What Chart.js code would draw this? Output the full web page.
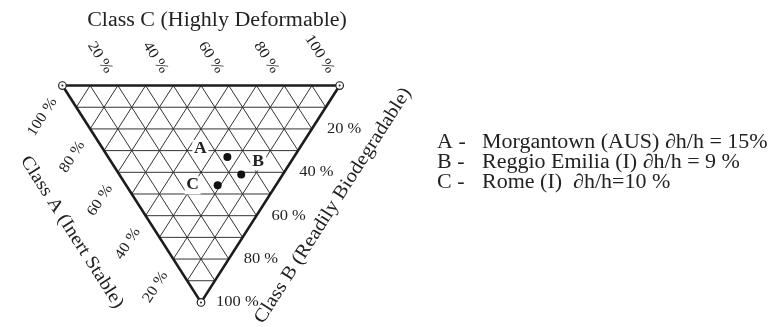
<!DOCTYPE html>
<html>
<head>
<meta charset="utf-8">
<script src="https://cdn.jsdelivr.net/npm/chart.js@4.4.1/dist/chart.umd.min.js"></script>
<style>
html, body { margin: 0; padding: 0; background: #fff; }
#wrap { width: 773px; height: 327px; }
</style>
</head>
<body>
<div id="wrap"><canvas id="chart" width="773" height="327"></canvas></div>
<script>
// Waste composition of the three sites (% of each class)
const sites = ['A', 'B', 'C'];
const siteNames = ['Morgantown (AUS)', 'Reggio Emilia (I)', 'Rome (I)'];
const settlement = [15, 9, 10];      // dh/h, %
const classA = [24, 15, 21];
const classB = [33, 41, 46];
const classC = [43, 44, 33];
const tickValues = [20, 40, 60, 80, 100];
const gridSteps = [10, 20, 30, 40, 50, 60, 70, 80, 90];

const FONT = '"Liberation Serif", "Times New Roman", serif';
const INK = '#222';
const STRETCH = 1.1;   // wide old-style serif

// ternary point -> plane: A = 100 at top-left, C = 100 at top-right, B = 100 at bottom
function toXY(a, b, c) {
    const s = a + b + c;
    return { x: (c + b / 2) / s, y: 1 - b / s };
}

function lineSet(p1, p2, width, color, order) {
    return {
        data: [p1, p2],
        showLine: true,
        borderColor: color,
        borderWidth: width,
        pointRadius: 0,
        order: order
    };
}

const datasets = [];

// sample points
datasets.push({
    data: sites.map((s, i) => toXY(classA[i], classB[i], classC[i])),
    pointRadius: 4,
    pointBackgroundColor: '#111',
    pointBorderWidth: 0,
    showLine: false,
    order: 0
});

// corner markers
const corners = [toXY(100, 0, 0), toXY(0, 0, 100), toXY(0, 100, 0)];
datasets.push({
    data: corners, pointRadius: 1, pointBackgroundColor: '#222',
    pointBorderWidth: 0, showLine: false, order: 1
});
datasets.push({
    data: corners, pointRadius: 3.8, pointBackgroundColor: '#fff',
    pointBorderColor: '#222', pointBorderWidth: 1.2, showLine: false, order: 2
});

// outline
datasets.push({
    data: [corners[0], corners[1], corners[2], corners[0]],
    showLine: true, borderColor: '#1c1c1c', borderWidth: 2.6,
    pointRadius: 0, order: 3
});

// 10 % grid in all three directions
gridSteps.forEach(g => {
    datasets.push(lineSet(toXY(100 - g, g, 0), toXY(0, g, 100 - g), 1, '#333', 4));
    datasets.push(lineSet(toXY(g, 0, 100 - g), toXY(g, 100 - g, 0), 1, '#333', 4));
    datasets.push(lineSet(toXY(100 - g, 0, g), toXY(0, 100 - g, g), 1, '#333', 4));
});

function drawText(ctx, text, x, y, angle, align, font) {
    ctx.save();
    ctx.translate(x, y);
    ctx.rotate(angle);
    ctx.scale(STRETCH, 1);
    ctx.font = font;
    ctx.fillStyle = INK;
    ctx.textAlign = align;
    ctx.textBaseline = 'middle';
    ctx.fillText(text, 0, 0);
    ctx.restore();
}

const ternaryText = {
    id: 'ternaryText',
    afterDatasetsDraw(chart) {
        const ctx = chart.ctx;
        const xs = chart.scales.x, ys = chart.scales.y;
        const px = p => ({ x: xs.getPixelForValue(p.x), y: ys.getPixelForValue(p.y) });
        const tl = px(corners[0]), tr = px(corners[1]), bt = px(corners[2]);

        // unit directions of the left and right edges (pointing down)
        const lLen = Math.hypot(bt.x - tl.x, bt.y - tl.y);
        const lDir = { x: (bt.x - tl.x) / lLen, y: (bt.y - tl.y) / lLen };
        const rLen = Math.hypot(bt.x - tr.x, bt.y - tr.y);
        const rDir = { x: (bt.x - tr.x) / rLen, y: (bt.y - tr.y) / rLen };
        const lAng = Math.atan2(lDir.y, lDir.x);
        const rAng = Math.atan2(-rDir.y, -rDir.x);
        const tickFont = '15px ' + FONT;

        tickValues.forEach(v => {
            // Class C along the top edge
            const pc = px(toXY(100 - v, 0, v));
            drawText(ctx, v + ' %', pc.x - lDir.x * 16, pc.y - lDir.y * 16, lAng, 'right', tickFont);
            // Class A along the left edge
            const pa = px(toXY(v, 100 - v, 0));
            drawText(ctx, v + ' %', pa.x + rDir.x * 16, pa.y + rDir.y * 16, rAng, 'right', tickFont);
            // Class B along the right edge
            const pb = px(toXY(0, v, 100 - v));
            drawText(ctx, v + ' %', pb.x + 15, pb.y, 0, 'left', tickFont);
        });

        // axis titles
        drawText(ctx, 'Class C (Highly Deformable)', (tl.x + tr.x) / 2 + 16, tl.y - 65, 0, 'center', '20px ' + FONT);
        const lm = { x: (tl.x + bt.x) / 2, y: (tl.y + bt.y) / 2 };
        drawText(ctx, 'Class A (Inert Stable)', lm.x - lDir.y * 71, lm.y + lDir.x * 71, lAng, 'center', '18.5px ' + FONT);
        const rm = { x: (tr.x + bt.x) / 2, y: (tr.y + bt.y) / 2 };
        drawText(ctx, 'Class B (Readily Biodegradable)',
            rm.x + rDir.y * 59 - rDir.x * 24, rm.y - rDir.x * 59 - rDir.y * 24, rAng, 'center', '19px ' + FONT);

        // site letters next to their points, on a white patch
        const offsets = [[-27, -8], [17, -13], [-25, 0]];
        sites.forEach((s, i) => {
            const p = px(toXY(classA[i], classB[i], classC[i]));
            const lx = p.x + offsets[i][0], ly = p.y + offsets[i][1];
            ctx.fillStyle = '#fff';
            ctx.fillRect(lx - 8, ly - 9, 16, 18);
            drawText(ctx, s, lx, ly, 0, 'center', 'bold 16px ' + FONT);
        });

        // key
        const keyFont = '20px ' + FONT;
        sites.forEach((s, i) => {
            const y = 143 + i * 20;
            drawText(ctx, s + ' -', 437, y, 0, 'left', keyFont);
            const sep = i === 2 ? '  ' : ' ';
            const eq = i === 2 ? '=' : ' = ';
            const val = i === 0 ? settlement[i] + '%' : settlement[i] + ' %';
            drawText(ctx, siteNames[i] + sep + '\u2202h/h' + eq + val, 482, y, 0, 'left', keyFont);
        });
    }
};

new Chart(document.getElementById('chart'), {
    type: 'scatter',
    data: { datasets: datasets },
    options: {
        responsive: false,
        animation: false,
        layout: { padding: 0 },
        plugins: { legend: { display: false }, tooltip: { enabled: false } },
        scales: {
            x: { display: false, min: -0.2064, max: 2.5445 },
            y: { display: false, min: -0.0893, max: 1.3705 }
        }
    },
    plugins: [ternaryText]
});
</script>
</body>
</html>
